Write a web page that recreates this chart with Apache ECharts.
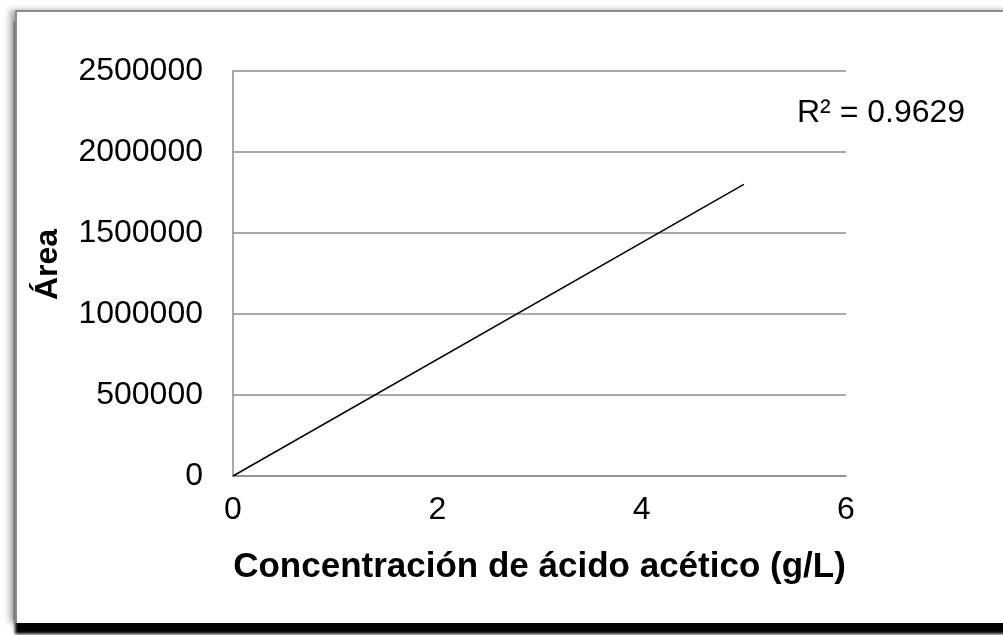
<!DOCTYPE html>
<html lang="es">
<head>
<meta charset="utf-8">
<script src="https://cdn.jsdelivr.net/npm/echarts@6/dist/echarts.min.js"></script>
<style>
  html, body { margin: 0; padding: 0; background: #fff; overflow: hidden; }
  #frame {
    position: absolute; left: 15px; top: 10px; width: 1100px; height: 611px;
    background: #fff;
    border-top: 2px solid #8c8c8c; border-left: 2px solid #8c8c8c;
    box-shadow: 0 11px 3px #000, -5px 0 6px rgba(0,0,0,0.35);
  }
  #main { position: absolute; left: 0; top: 0; width: 1003px; height: 635px; }
</style>
</head>
<body>
<div id="frame"></div>
<div id="main"></div>
<script type="text/javascript">
// linea de tendencia (puntos ocultos)
var concentracion = [0, 5];
var area = [0, 1800000];
var xTicks = [0, 2, 4, 6];
var yTicks = [0, 500000, 1000000, 1500000, 2000000, 2500000];
var r2Text = 'R² = 0.9629';

var myChart = echarts.init(document.getElementById('main'));
var lineData = concentracion.map(function (c, i) { return [c, area[i]]; });

myChart.setOption({
    animation: false,
    textStyle: { fontFamily: 'Liberation Sans, Arial, sans-serif' },
    grid: { left: 233, right: 157, top: 71, bottom: 159 },
    title: {
        text: r2Text,
        left: 792, top: 92,
        textStyle: { fontSize: 32, fontWeight: 'normal', color: '#000', fontFamily: 'Liberation Sans' }
    },
    xAxis: {
        type: 'value',
        min: xTicks[0], max: xTicks[xTicks.length - 1], interval: 2,
        name: 'Concentración de ácido acético (g/L)',
        nameLocation: 'middle', nameGap: 74,
        nameTextStyle: { fontSize: 35, fontWeight: 'bold', color: '#000', fontFamily: 'Liberation Sans' },
        axisLine: { lineStyle: { color: '#8c8c8c', width: 1.5 } },
        axisTick: { show: false },
        splitLine: { show: false },
        axisLabel: { fontSize: 32, color: '#000', margin: 18, fontFamily: 'Liberation Sans' }
    },
    yAxis: {
        type: 'value',
        min: yTicks[0], max: yTicks[yTicks.length - 1], interval: 500000,
        name: 'Área',
        nameLocation: 'middle', nameGap: 169,
        nameTextStyle: { fontSize: 32, fontWeight: 'bold', color: '#000', fontFamily: 'Liberation Sans', padding: [0, 0, 0, 18] },
        axisLine: { show: true, lineStyle: { color: '#8c8c8c', width: 1.5 } },
        axisTick: { show: false },
        splitLine: { lineStyle: { color: '#8c8c8c', width: 1.5 } },
        axisLabel: {
            fontSize: 32, color: '#000', margin: 30, fontFamily: 'Liberation Sans',
            formatter: function (v) { return String(v); }
        }
    },
    series: [{
        type: 'line',
        data: lineData,
        showSymbol: false,
        lineStyle: { color: '#000', width: 1.5 }
    }]
});
</script>
</body>
</html>
